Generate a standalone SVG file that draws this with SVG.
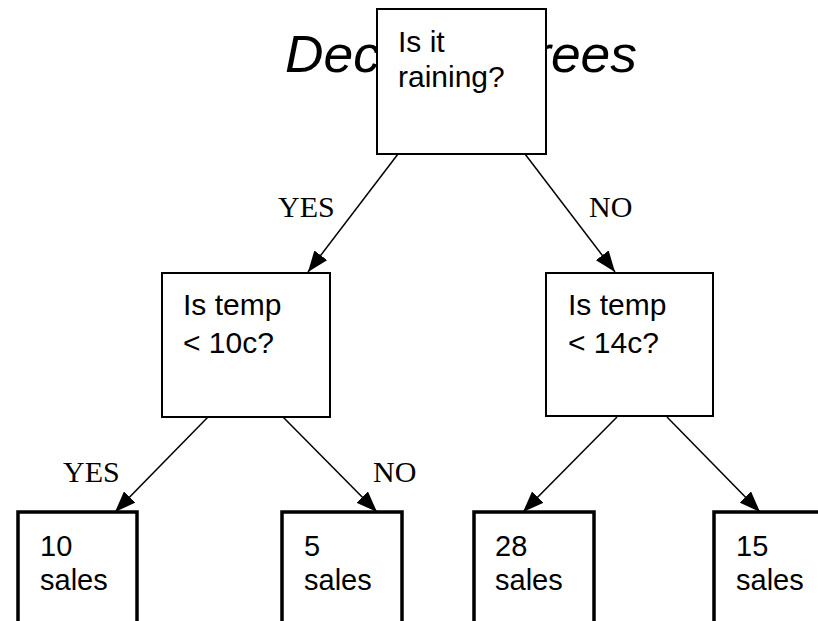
<svg xmlns="http://www.w3.org/2000/svg" width="818" height="621" viewBox="0 0 818 621">
  <style>
    .box { fill: #ffffff; stroke: #000000; stroke-width: 2; }
    .leaf { fill: #ffffff; stroke: #000000; stroke-width: 3.5; }
    .t { font-family: "Liberation Sans", Arial, sans-serif; fill: #000000; }
    .lbl { font-family: "Liberation Serif", "Times New Roman", serif; font-size: 30px; fill: #000000; }
    .edge { stroke: #000000; stroke-width: 1.5; fill: none; marker-end: url(#arrow); }
    .title { font-family: "Liberation Sans", Arial, sans-serif; font-style: italic; font-size: 52px; fill: #000000; }
  </style>
  <defs>
    <marker id="arrow" markerUnits="userSpaceOnUse" markerWidth="21" markerHeight="16" refX="21" refY="8" orient="auto">
      <path d="M0,0 L21,8 L0,16 z" fill="#000000"/>
    </marker>
  </defs>
  <rect width="818" height="621" fill="#ffffff"/>
  <text class="title" x="285" y="72" textLength="352" lengthAdjust="spacingAndGlyphs">Decision Trees</text>

  <g id="connectors">
    <line class="edge" x1="398" y1="154" x2="308" y2="272"/>
    <line class="edge" x1="525" y1="154" x2="615" y2="272"/>
    <line class="edge" x1="208" y1="417" x2="115" y2="512"/>
    <line class="edge" x1="283" y1="417" x2="377" y2="512"/>
    <line class="edge" x1="617" y1="417" x2="523" y2="512"/>
    <line class="edge" x1="667" y1="417" x2="760" y2="512"/>
    <text class="lbl" x="278" y="217">YES</text>
    <text class="lbl" x="589" y="217">NO</text>
    <text class="lbl" x="63" y="482">YES</text>
    <text class="lbl" x="373" y="482">NO</text>
  </g>

  <g id="root">
    <rect class="box" x="377" y="9" width="169" height="145"/>
    <text class="t" font-size="30" x="398" y="52">Is it</text>
    <text class="t" font-size="30" x="398" y="87">raining?</text>
  </g>

  <g id="rain-yes">
    <rect class="box" x="162" y="273" width="168" height="144"/>
    <text class="t" font-size="30" x="183" y="315">Is temp</text>
    <text class="t" font-size="30" x="183" y="353">&lt; 10c?</text>
  </g>

  <g id="rain-no">
    <rect class="box" x="546" y="273" width="167" height="143"/>
    <text class="t" font-size="30" x="568" y="315">Is temp</text>
    <text class="t" font-size="30" x="568" y="353">&lt; 14c?</text>
  </g>

  <g id="leaf-10">
    <rect class="leaf" x="18" y="512" width="119" height="130"/>
    <text class="t" font-size="29" x="40" y="556">10</text>
    <text class="t" font-size="29" x="40" y="590">sales</text>
  </g>

  <g id="leaf-5">
    <rect class="leaf" x="282" y="512" width="120" height="130"/>
    <text class="t" font-size="29" x="304" y="556">5</text>
    <text class="t" font-size="29" x="304" y="590">sales</text>
  </g>

  <g id="leaf-28">
    <rect class="leaf" x="474" y="512" width="120" height="130"/>
    <text class="t" font-size="29" x="495" y="556">28</text>
    <text class="t" font-size="29" x="495" y="590">sales</text>
  </g>

  <g id="leaf-15">
    <rect class="leaf" x="714" y="512" width="120" height="130"/>
    <text class="t" font-size="29" x="736" y="556">15</text>
    <text class="t" font-size="29" x="736" y="590">sales</text>
  </g>
</svg>
